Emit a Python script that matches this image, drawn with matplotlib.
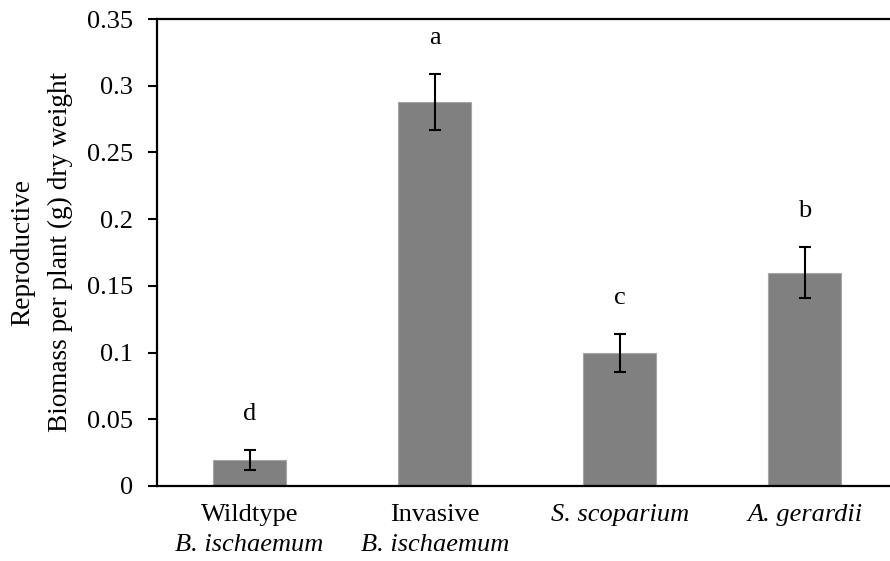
import numpy as np
import matplotlib
matplotlib.use('Agg')
import matplotlib.pyplot as plt
from matplotlib import transforms

plt.rcParams['font.family'] = ['Liberation Serif', 'DejaVu Serif']

# 数据
first_line = ['Wildtype', 'Invasive', 'S. scoparium', 'A. gerardii']
second_line = ['B. ischaemum', 'B. ischaemum', '', '']
first_italic = [False, False, True, True]
biomass = [0.0195, 0.288, 0.0997, 0.160]
errors = [0.0075, 0.021, 0.0143, 0.019]
letters = ['d', 'a', 'c', 'b']

fs = 19
fig = plt.figure(figsize=(8.9, 5.61), dpi=100)
ax = fig.add_axes([157 / 890, 1 - 486 / 561, (890 - 157) / 890, (486 - 19) / 561])

x = np.arange(len(biomass))
ax.bar(x, biomass, width=0.395, color='#808080', edgecolor='#a6a6a6', linewidth=0.8,
       yerr=errors, error_kw=dict(ecolor='black', elinewidth=1.5, capsize=4.5, capthick=1.5))

# 显著性字母
for xi, v, e, t in zip(x, biomass, errors, letters):
    ax.annotate(t, (xi, v + e), xytext=(0, 26), textcoords='offset points',
                ha='center', va='center', fontsize=fs)

ax.set_xlim(-0.5, 3.46)
ax.set_ylim(0, 0.35)
ax.set_yticks(np.arange(0, 0.351, 0.05))
ax.set_yticklabels(['0', '0.05', '0.1', '0.15', '0.2', '0.25', '0.3', '0.35'])
ax.tick_params(axis='y', direction='out', length=6.5, width=1.5, labelsize=fs, pad=11)
ax.set_xticks([])

ax.spines['right'].set_visible(False)
for s in ['left', 'bottom', 'top']:
    ax.spines[s].set_linewidth(1.6)

# x轴标签（两行，第二行斜体）
trans = transforms.blended_transform_factory(ax.transData, ax.transAxes)
for xi, a, b, it in zip(x, first_line, second_line, first_italic):
    ax.text(xi, -29 / 467, a, transform=trans, ha='center', va='center', fontsize=fs,
            style='italic' if it else 'normal')
    if b:
        ax.text(xi, -59 / 467, b, transform=trans, ha='center', va='center', fontsize=fs,
                style='italic')

fig.text(23 / 890, 1 - 252 / 561, 'Reproductive', rotation=90, ha='center', va='center', fontsize=19.6)
fig.text(60 / 890, 1 - 252 / 561, 'Biomass per plant (g) dry weight', rotation=90,
         ha='center', va='center', fontsize=19.6)

fig.savefig('out.png', dpi=100)
